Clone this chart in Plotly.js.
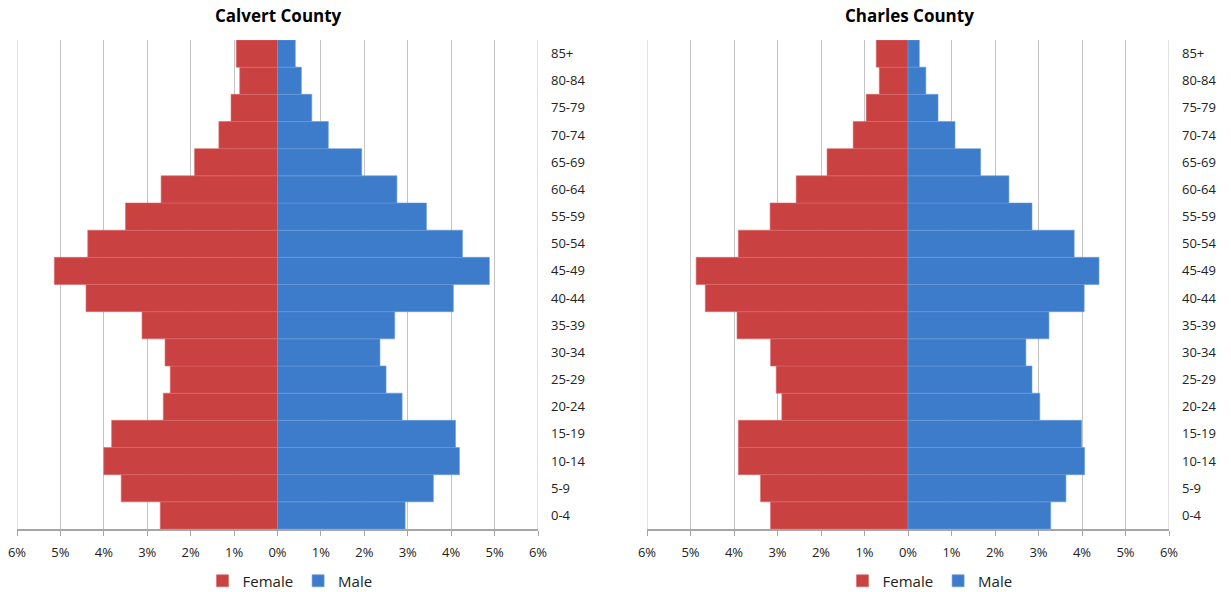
<!DOCTYPE html>
<html>
<head>
<meta charset="utf-8">
<script src="https://cdn.plot.ly/plotly-3.0.1.min.js"></script>
<style>html,body{margin:0;padding:0;background:#fff;}#chart{width:1231px;height:592px;}</style>
</head>
<body>
<div id="chart"></div>
<script>
const ageGroups = ["0-4","5-9","10-14","15-19","20-24","25-29","30-34","35-39","40-44","45-49","50-54","55-59","60-64","65-69","70-74","75-79","80-84","85+"];

// Calvert County (percent of population)
const calvertFemale = [2.70,3.60,4.00,3.82,2.63,2.47,2.59,3.12,4.41,5.14,4.37,3.50,2.68,1.91,1.35,1.07,0.87,0.95];
const calvertMale   = [2.94,3.59,4.19,4.10,2.87,2.50,2.36,2.70,4.05,4.88,4.26,3.43,2.75,1.94,1.17,0.79,0.55,0.41];

// Charles County (percent of population)
const charlesFemale = [3.16,3.39,3.90,3.90,2.90,3.03,3.16,3.93,4.66,4.87,3.90,3.17,2.57,1.86,1.26,0.96,0.66,0.73];
const charlesMale   = [3.28,3.63,4.06,3.99,3.03,2.85,2.71,3.24,4.05,4.39,3.82,2.85,2.32,1.67,1.08,0.69,0.41,0.26];

const titles = ["Calvert County","Charles County"];
const tickVals = [-6,-5,-4,-3,-2,-1,0,1,2,3,4,5,6];
const tickText = ["6%","5%","4%","3%","2%","1%","0%","1%","2%","3%","4%","5%","6%"];

const RED = "#c94141", RED_LINE = "#d96a6a";
const BLUE = "#3d7bcb", BLUE_LINE = "#6a9ad8";
const FONT = "Open Sans, Noto Sans, sans-serif";
const GRID = "#c4c4c4";

function neg(a){ return a.map(v => -v); }

const data = [
  {type:"bar", orientation:"h", name:"Female", y:ageGroups, x:neg(calvertFemale),
   xaxis:"x", yaxis:"y", legend:"legend",
   marker:{color:RED, line:{color:RED_LINE, width:0.6}}, hoverinfo:"skip"},
  {type:"bar", orientation:"h", name:"Male", y:ageGroups, x:calvertMale,
   xaxis:"x", yaxis:"y", legend:"legend",
   marker:{color:BLUE, line:{color:BLUE_LINE, width:0.6}}, hoverinfo:"skip"},
  {type:"bar", orientation:"h", name:"Female", y:ageGroups, x:neg(charlesFemale),
   xaxis:"x2", yaxis:"y2", legend:"legend2",
   marker:{color:RED, line:{color:RED_LINE, width:0.6}}, hoverinfo:"skip"},
  {type:"bar", orientation:"h", name:"Male", y:ageGroups, x:charlesMale,
   xaxis:"x2", yaxis:"y2", legend:"legend2",
   marker:{color:BLUE, line:{color:BLUE_LINE, width:0.6}}, hoverinfo:"skip"}
];

const W = 1231, H = 592;
function xax(d0, d1, anchor){
  return {domain:[d0/W, d1/W], anchor:anchor, range:[-6,6], tickvals:tickVals, ticktext:tickText,
    showgrid:true, gridcolor:GRID, gridwidth:1, zeroline:false, automargin:false,
    showline:true, linecolor:"#a6a6a6", linewidth:1.5, ticks:"outside", ticklen:5, tickcolor:"#a6a6a6",
    ticklabelstandoff:6, tickfont:{family:FONT, size:13, color:"#222"}, fixedrange:true};
}
function yax(anchor){
  return {anchor:anchor, side:"right", type:"category", categoryorder:"array", categoryarray:ageGroups,
    showgrid:false, zeroline:false, showline:false, ticks:"", ticklabelstandoff:12, automargin:false,
    tickfont:{family:FONT, size:13, color:"#222"}, fixedrange:true};
}
function edgeLine(xref, yref, xv){
  return {type:"line", xref:xref, yref:yref+" domain", x0:xv, x1:xv, y0:0, y1:1,
    line:{color:GRID, width:1}, layer:"below"};
}

const layout = {
  width:W, height:H,
  margin:{l:0, r:0, t:40.4, b:62.7, autoexpand:false},
  paper_bgcolor:"#fff", plot_bgcolor:"#fff",
  barmode:"relative", bargap:0,
  xaxis: xax(17, 538, "y"),
  yaxis: yax("x"),
  xaxis2: xax(647, 1169, "y2"),
  yaxis2: yax("x2"),
  showlegend:true,
  legend:{orientation:"h", x:290/W, xanchor:"center", xref:"container", y:1-581/H, yref:"container", yanchor:"middle",
    font:{family:FONT, size:15, color:"#222"}, traceorder:"normal", itemwidth:30},
  legend2:{orientation:"h", x:930/W, xanchor:"center", xref:"container", y:1-581/H, yref:"container", yanchor:"middle",
    font:{family:FONT, size:15, color:"#222"}, traceorder:"normal", itemwidth:30},
  shapes:[edgeLine("x","y",-6), edgeLine("x","y",6), edgeLine("x2","y2",-6), edgeLine("x2","y2",6)],
  annotations:[
    {text:"<b>"+titles[0]+"</b>", xref:"paper", yref:"paper", x:278/W, y:1.05, xanchor:"center", yanchor:"middle",
     showarrow:false, font:{family:FONT, size:17, color:"#000"}},
    {text:"<b>"+titles[1]+"</b>", xref:"paper", yref:"paper", x:909/W, y:1.05, xanchor:"center", yanchor:"middle",
     showarrow:false, font:{family:FONT, size:17, color:"#000"}}
  ]
};

Plotly.newPlot("chart", data, layout, {displayModeBar:false, staticPlot:true});
</script>
</body>
</html>
